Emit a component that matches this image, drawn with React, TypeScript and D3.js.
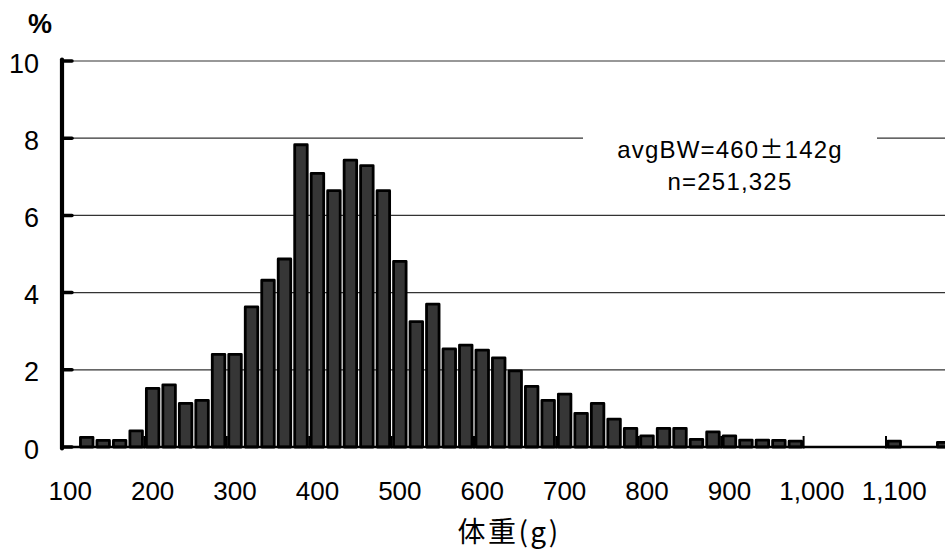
import React from "react";
import * as d3 from "d3";

const categories: number[] = [
  100, 120, 140, 160, 180, 200, 220, 240, 260, 280,
  300, 320, 340, 360, 380, 400, 420, 440, 460, 480,
  500, 520, 540, 560, 580, 600, 620, 640, 660, 680,
  700, 720, 740, 760, 780, 800, 820, 840, 860, 880,
  900, 920, 940, 960, 980, 1000, 1020, 1040, 1060, 1080,
  1100, 1120, 1140, 1160,
];
const percents: number[] = [
  0, 0.25, 0.17, 0.17, 0.42, 1.52, 1.61, 1.13, 1.21, 2.4,
  2.4, 3.63, 4.32, 4.87, 7.83, 7.09, 6.64, 7.43, 7.29, 6.64,
  4.81, 3.25, 3.7, 2.54, 2.64, 2.51, 2.31, 1.97, 1.57, 1.21,
  1.37, 0.87, 1.13, 0.72, 0.48, 0.29, 0.48, 0.48, 0.2, 0.39,
  0.29, 0.18, 0.18, 0.17, 0.15, 0, 0, 0, 0, 0,
  0.15, 0, 0, 0.12,
];
const yTickValues: number[] = [0, 2, 4, 6, 8, 10];
const gridValues: number[] = [2, 4, 6, 8, 10];
const xLabelValues: number[] = [100, 200, 300, 400, 500, 600, 700, 800, 900, 1000, 1100];
const yUnit = "%";
const xTitle = "体重(g)";
const noteParts: string[] = ["avgBW=460", "±", "142g"];
const noteLine2 = "n=251,325";

const W = 945;
const H = 551;
const NUM_FONT = "'Liberation Sans', Arial, sans-serif";
const CJK_FONT = "'Noto Sans CJK JP', 'Noto Sans', sans-serif";

export default function App() {
  const left = 62;
  const step = 16.48;
  const right = left + step * categories.length;
  const x = d3
    .scaleBand<number>()
    .domain(categories)
    .range([left, right])
    .paddingInner(0.24)
    .paddingOuter(0.12);
  const y = d3.scaleLinear().domain([0, 10]).range([447, 61]);
  const s = x.step();
  const bw = x.bandwidth();
  const slotStart = (c: number) => (x(c) as number) - s * 0.12;
  const fmt = d3.format(",");

  const tickCats = categories.filter((c, i) => i > 0 && i % 5 === 0);

  return (
    <svg
      width={W}
      height={H}
      viewBox={`0 0 ${W} ${H}`}
      style={{ position: "absolute", left: 0, top: 0, background: "#fff" }}
      fontFamily={NUM_FONT}
    >
      <rect x={0} y={0} width={W} height={H} fill="#fff" />
      {gridValues.map((v) => (
        <line
          key={"g" + v}
          x1={left}
          x2={right}
          y1={y(v)}
          y2={y(v)}
          stroke="#333"
          strokeWidth={1.2}
        />
      ))}
      <rect x={583} y={118} width={294} height={82} fill="#fff" />
      <text x={730} y={158} textAnchor="middle" fontSize={24} fill="#000" letterSpacing={1.2}>
        <tspan>{noteParts[0]}</tspan>
        <tspan fontFamily={CJK_FONT}>{noteParts[1]}</tspan>
        <tspan>{noteParts[2]}</tspan>
      </text>
      <text x={730} y={190} textAnchor="middle" fontSize={24} fill="#000" letterSpacing={1.2}>
        {noteLine2}
      </text>
      {categories.map((c, i) =>
        percents[i] > 0 ? (
          <rect
            key={"b" + c}
            x={x(c)}
            y={y(percents[i])}
            width={bw}
            height={y(0) - y(percents[i])}
            fill="#363636"
            stroke="#000"
            strokeWidth={2.8}
            strokeLinejoin="round"
          />
        ) : null
      )}
      <line x1={left} x2={right} y1={y(0)} y2={y(0)} stroke="#000" strokeWidth={2.6} />
      {tickCats.map((c) => (
        <line
          key={"xt" + c}
          x1={slotStart(c)}
          x2={slotStart(c)}
          y1={y(0) + 1.5}
          y2={y(0) - 11}
          stroke="#000"
          strokeWidth={2}
        />
      ))}
      <line x1={left} x2={left} y1={y(10) - 1.5} y2={y(0) + 1.5} stroke="#000" strokeWidth={4.2} strokeLinecap="round" />
      {yTickValues.map((v) => (
        <line
          key={"yt" + v}
          x1={left}
          x2={left + 10}
          y1={y(v)}
          y2={y(v)}
          stroke="#000"
          strokeWidth={3.5}
          strokeLinecap="round"
        />
      ))}
      {yTickValues.map((v) => (
        <text key={"yl" + v} x={39} y={y(v) + 11.5} textAnchor="end" fontSize={27} fill="#000">
          {v}
        </text>
      ))}
      <text x={40} y={33} textAnchor="middle" fontSize={27} fontWeight="bold" fill="#000">
        {yUnit}
      </text>
      {xLabelValues.map((v) => (
        <text
          key={"xl" + v}
          x={(x(v) as number) + bw / 2}
          y={500}
          textAnchor="middle"
          fontSize={26}
          fill="#000"
        >
          {fmt(v)}
        </text>
      ))}
      <text
        x={509}
        y={542}
        textAnchor="middle"
        fontSize={28}
        fontFamily={CJK_FONT}
        fill="#000"
        letterSpacing={2.5}
      >
        {xTitle}
      </text>
    </svg>
  );
}
